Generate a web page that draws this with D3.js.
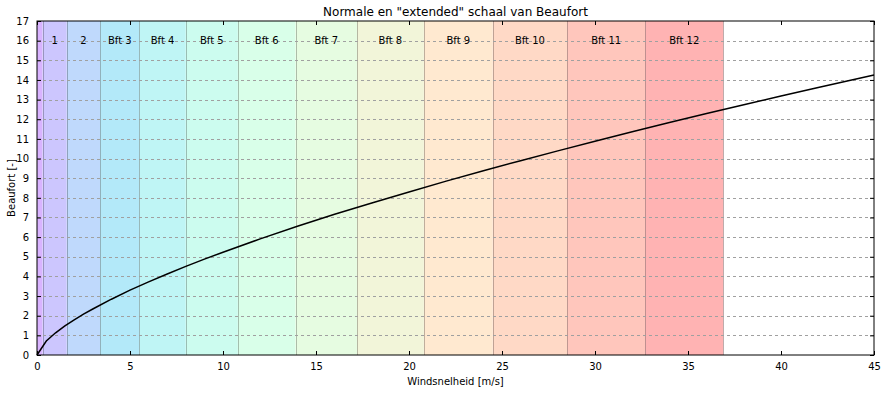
<!DOCTYPE html>
<html>
<head>
<meta charset="utf-8">
<script src="https://cdn.jsdelivr.net/npm/d3@7"></script>
<style>
  body { margin: 0; background: #fff; }
  text { font-family: "DejaVu Sans", sans-serif; fill: #000; }
</style>
</head>
<body>
<div id="chart"></div>
<script>
// band edges (m/s) per Beaufort number 0..12
const bandLo = [0, 0.3, 1.6, 3.4, 5.5, 8.0, 10.8, 13.9, 17.2, 20.8, 24.5, 28.5, 32.7];
const bandHi = [0.3, 1.6, 3.4, 5.5, 8.0, 10.8, 13.9, 17.2, 20.8, 24.5, 28.5, 32.7, 36.9];
const bandLabels = ['', '1', '2', 'Bft 3', 'Bft 4', 'Bft 5', 'Bft 6', 'Bft 7', 'Bft 8', 'Bft 9', 'Bft 10', 'Bft 11', 'Bft 12'];
const bandColors = ['#d9b3ff', '#ccc6fe', '#bfd9fc', '#b3e9f9', '#bff5f5', '#ccfcef', '#d9ffe9',
                    '#e6fce1', '#f2f5d9', '#ffe9d0', '#ffd9c6', '#ffc6bc', '#ffb3b3'];

// curve
const windSpeed = [0, 0.5, 1, 1.5, 2, 2.5, 3, 4, 5, 6, 7, 8, 9, 10, 12, 14, 16, 18, 20,
                   22, 24, 26, 28, 30, 32, 34, 36, 38, 40, 42, 45];
const beaufort = [0, 0.71, 1.13, 1.48, 1.79, 2.08, 2.34, 2.84, 3.30, 3.72, 4.12, 4.51, 4.88, 5.23,
                  5.91, 6.55, 7.16, 7.74, 8.30, 8.85, 9.38, 9.89, 10.39, 10.88, 11.36, 11.83,
                  12.29, 12.74, 13.18, 13.62, 14.25];

const xTicks = [0, 5, 10, 15, 20, 25, 30, 35, 40, 45];
const yTicks = d3.range(0, 18);

const width = 887, height = 393;
const m = {left: 37, right: 13, top: 21, bottom: 38};

const svg = d3.select('#chart').append('svg')
  .attr('width', width)
  .attr('height', height);

const x = d3.scaleLinear().domain([0, 45]).range([m.left, width - m.right]);
const y = d3.scaleLinear().domain([0, 17]).range([height - m.bottom, m.top]);

const bands = bandLo.map((lo, i) => ({lo: lo, hi: bandHi[i], label: bandLabels[i], col: bandColors[i]}));

svg.selectAll('rect.band').data(bands)
  .enter().append('rect')
  .attr('class', 'band')
  .attr('x', d => x(d.lo))
  .attr('y', y(17))
  .attr('width', d => x(d.hi) - x(d.lo))
  .attr('height', y(0) - y(17))
  .attr('fill', d => d.col);

// band edges
svg.selectAll('line.edge').data(bandHi)
  .enter().append('line')
  .attr('class', 'edge')
  .attr('x1', d => Math.round(x(d)) + 0.5)
  .attr('x2', d => Math.round(x(d)) + 0.5)
  .attr('y1', y(17))
  .attr('y2', y(0))
  .attr('stroke', '#000')
  .attr('stroke-opacity', 0.25);

// grid
svg.selectAll('line.grid').data(yTicks.slice(1, 17))
  .enter().append('line')
  .attr('class', 'grid')
  .attr('x1', x(0))
  .attr('x2', x(45))
  .attr('y1', d => Math.round(y(d)) + 0.5)
  .attr('y2', d => Math.round(y(d)) + 0.5)
  .attr('stroke', '#a0a0a0')
  .attr('stroke-dasharray', '3,3');

svg.selectAll('text.band').data(bands.filter(d => d.label))
  .enter().append('text')
  .attr('class', 'band')
  .attr('x', d => x((d.lo + d.hi) / 2))
  .attr('y', y(16))
  .attr('dy', '0.35em')
  .attr('text-anchor', 'middle')
  .attr('font-size', 10)
  .text(d => d.label);

const line = d3.line()
  .x((d, i) => x(windSpeed[i]))
  .y(d => y(d));

svg.append('path')
  .datum(beaufort)
  .attr('d', line)
  .attr('fill', 'none')
  .attr('stroke', '#000')
  .attr('stroke-width', 1.5);

// axes, classic style: ticks pointing inward on all sides
const tickIn = -4;
svg.append('g').attr('transform', `translate(0,${y(0)})`)
  .call(d3.axisBottom(x).tickValues(xTicks).tickSizeInner(tickIn).tickSizeOuter(0).tickPadding(8));
svg.append('g').attr('transform', `translate(0,${y(17)})`)
  .call(d3.axisTop(x).tickValues(xTicks).tickSizeInner(tickIn).tickSizeOuter(0).tickFormat(''));
svg.append('g').attr('transform', `translate(${x(0)},0)`)
  .call(d3.axisLeft(y).tickValues(yTicks).tickSizeInner(tickIn).tickSizeOuter(0).tickPadding(8));
svg.append('g').attr('transform', `translate(${x(45)},0)`)
  .call(d3.axisRight(y).tickValues(yTicks).tickSizeInner(tickIn).tickSizeOuter(0).tickFormat(''));

svg.selectAll('.domain').remove();
svg.selectAll('.tick text').attr('font-size', 10).attr('font-family', '"DejaVu Sans", sans-serif');

svg.append('rect')
  .attr('x', x(0)).attr('y', y(17))
  .attr('width', x(45) - x(0)).attr('height', y(0) - y(17))
  .attr('fill', 'none').attr('stroke', '#000').attr('stroke-width', 1);

svg.append('text')
  .attr('x', (x(0) + x(45)) / 2).attr('y', 16)
  .attr('text-anchor', 'middle').attr('font-size', 12)
  .text('Normale en "extended" schaal van Beaufort');

svg.append('text')
  .attr('x', (x(0) + x(45)) / 2).attr('y', 385)
  .attr('text-anchor', 'middle').attr('font-size', 10)
  .text('Windsnelheid [m/s]');

svg.append('text')
  .attr('transform', `translate(15,${(y(0) + y(17)) / 2}) rotate(-90)`)
  .attr('text-anchor', 'middle').attr('font-size', 10)
  .text('Beaufort [-]');
</script>
</body>
</html>
